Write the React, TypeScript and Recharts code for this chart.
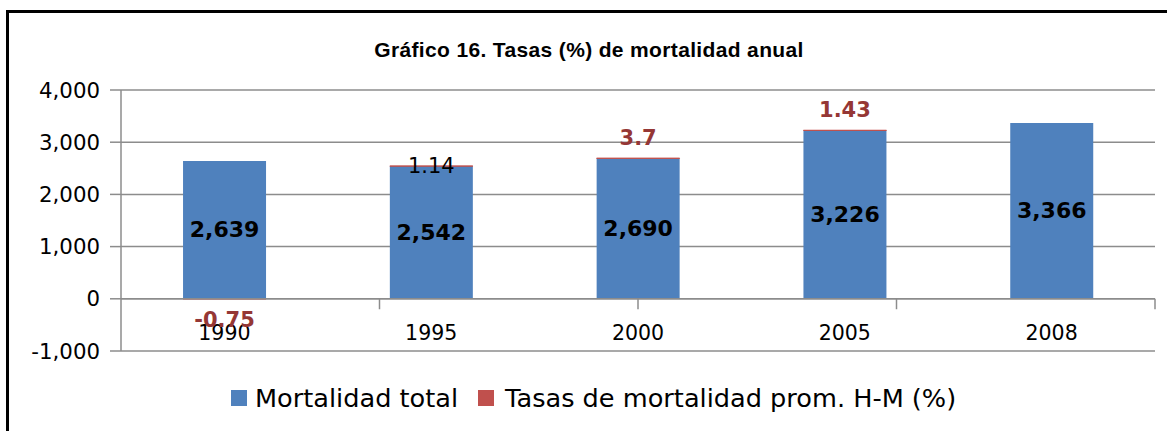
import React from 'react';
import { BarChart, Bar, XAxis, YAxis, CartesianGrid, LabelList, Legend, ReferenceLine } from 'recharts';

const title = 'Gráfico 16. Tasas (%) de mortalidad anual';
const categories = ['1990', '1995', '2000', '2005', '2008'];
const mortalidadTotal = [2639, 2542, 2690, 3226, 3366];
const tasasPromHM: (number | null)[] = [-0.75, 1.14, 3.7, 1.43, null];
const yTicks = [-1000, 0, 1000, 2000, 3000, 4000];
const categoryEdges = [1, 2, 3, 4, 5];
const seriesNames = ['Mortalidad total', 'Tasas de mortalidad prom. H-M (%)'];
const seriesColors = ['#4F81BD', '#C0504D'];
const plainRateLabelYear = '1995';

const data = categories.map((c, i) => ({ year: c, total: mortalidadTotal[i], tasa: tasasPromHM[i] }));

const GRID = '#8c8c8c';
const FONT = "'DejaVu Sans', sans-serif";
const fmt = (v: number) => v.toLocaleString('en-US');

const XTick = (props: any) => {
  const { x, y, payload } = props;
  return (
    <text x={x} y={y - 18} textAnchor="middle" dominantBaseline="central" fontFamily={FONT} fontSize={20.5} fill="#000">
      {payload.value}
    </text>
  );
};

const TotalLabel = (props: any) => {
  const { x, y, width, height, value } = props;
  if (value == null) return null;
  return (
    <text x={x + width / 2} y={y + height / 2} textAnchor="middle" dominantBaseline="central" fontFamily={FONT} fontSize={22} fontWeight="bold" fill="#000">
      {fmt(value)}
    </text>
  );
};

const RateLabel = (props: any) => {
  const { x, y, width, height, value, index } = props;
  if (value == null) return null;
  const top = Math.min(y, y + height);
  const bottom = Math.max(y, y + height);
  const plain = categories[index] === plainRateLabelYear;
  const cy = plain ? top : value < 0 ? bottom + 21 : top - 20;
  return (
    <text x={x + width / 2} y={cy} textAnchor="middle" dominantBaseline="central" fontFamily={FONT} fontSize={21}
      fontWeight={plain ? 'normal' : 'bold'} fill={plain ? '#000' : '#953735'}>
      {String(value)}
    </text>
  );
};

const LegendContent = (props: any) => {
  const payload = props.payload || [];
  return (
    <div style={{ display: 'flex', alignItems: 'center', height: 40, fontFamily: FONT, fontSize: 25.6, color: '#000', whiteSpace: 'nowrap' }}>
      {payload.map((p: any, i: number) => (
        <span key={p.value} style={{ display: 'flex', alignItems: 'center', marginRight: i === 0 ? 20 : 0 }}>
          <span style={{ display: 'inline-block', width: 16, height: 16, background: p.color, marginRight: i === 0 ? 8 : 11 }} />
          {p.value}
        </span>
      ))}
    </div>
  );
};

export default function App() {
  return (
    <div style={{ position: 'absolute', left: 0, top: 0, width: 1167, height: 431, background: '#fff', overflow: 'hidden' }}>
      <div style={{ position: 'absolute', left: 6, top: 10, width: 1200, height: 500, borderLeft: '3px solid #000', borderTop: '3px solid #000' }} />
      <div style={{ position: 'absolute', left: 0, top: 0 }}>
        <BarChart width={1167} height={431} data={data} margin={{ top: 90, right: 12, left: 0, bottom: 0 }}
          barCategoryGap="30%" stackOffset="sign">
          <CartesianGrid horizontal vertical={false} stroke={GRID} strokeWidth={1.5} />
          <XAxis dataKey="year" height={40} tick={<XTick />} tickLine={false} axisLine={false} tickSize={0} tickMargin={0} interval={0} />
          <XAxis xAxisId="edges" type="number" domain={[0, 5]} hide />
          <YAxis width={121} domain={[-1000, 4000]} ticks={yTicks} interval={0} tickFormatter={fmt}
            tick={{ fontFamily: FONT, fontSize: 21.3, fill: '#000' }}
            axisLine={{ stroke: GRID, strokeWidth: 1.5 }} tickLine={{ stroke: GRID, strokeWidth: 1.5 }} tickSize={11} tickMargin={10} />
          <ReferenceLine y={0} stroke={GRID} strokeWidth={1.5} />
          {categoryEdges.map((e) => (
            <ReferenceLine key={e} xAxisId="edges" segment={[{ x: e, y: 0 }, { x: e, y: -200 }]} stroke={GRID} strokeWidth={1.5} />
          ))}
          <Bar dataKey="total" name={seriesNames[0]} stackId="a" fill={seriesColors[0]} isAnimationActive={false}>
            <LabelList dataKey="total" content={<TotalLabel />} />
          </Bar>
          <Bar dataKey="tasa" name={seriesNames[1]} stackId="a" fill={seriesColors[1]} stroke={seriesColors[1]} strokeWidth={1} isAnimationActive={false}>
            <LabelList dataKey="tasa" content={<RateLabel />} />
          </Bar>
          <Legend verticalAlign="bottom" height={40} content={<LegendContent />}
            wrapperStyle={{ left: 231, top: 378, bottom: 'auto', width: 'auto', height: 40 }} />
        </BarChart>
      </div>
      <div style={{ position: 'absolute', left: 0, top: 38, width: 1178, textAlign: 'center', fontFamily: "'Liberation Sans', Arial, sans-serif",
        fontWeight: 'bold', fontSize: 21, lineHeight: '24px', letterSpacing: 0.35, color: '#000' }}>
        {title}
      </div>
    </div>
  );
}
